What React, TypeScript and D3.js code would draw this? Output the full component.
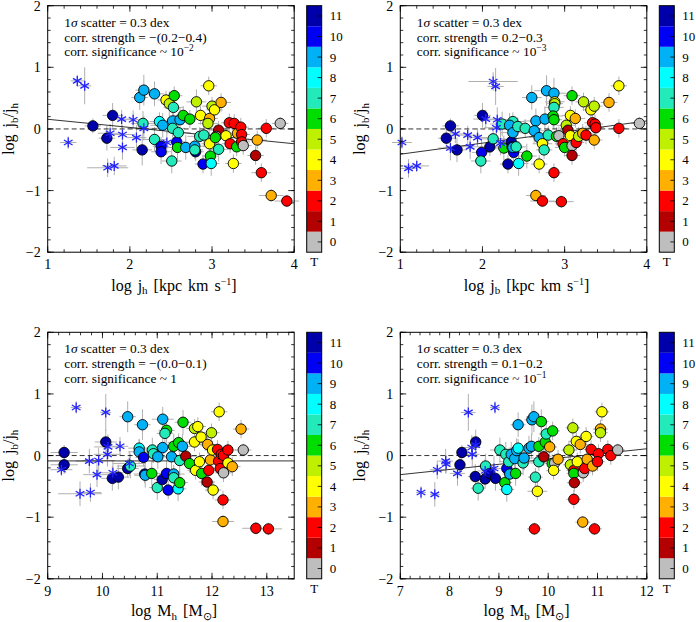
import React from 'react';
import * as d3 from 'd3';

// colour per morphological type T = 0..11
const tColors = ['#bebebe', '#b30000', '#ff0000', '#ffb000', '#ffff00', '#bff000', '#00dd00', '#22eabb', '#00ffff', '#00b2f5', '#0000f5', '#0000aa'];
const tLabels = ['0', '1', '2', '3', '4', '5', '6', '7', '8', '9', '10', '11'];
const yTicks = [-2, -1, 0, 1, 2];

// [x, log jb/jh, T, xerr, yerr]
const ptsJh = [
  [1.55, 0.05, 11, 0.10, 0.12], [1.79, 0.22, 11, 0.12, 0.20], [1.72, -0.15, 11, 0.10, 0.20], [2.15, -0.34, 11, 0.12, 0.25],
  [2.12, 0.51, 9, 0.10, 0.20], [2.17, 0.63, 9, 0.10, 0.25], [2.30, 0.57, 9, 0.12, 0.20], [2.16, 0.09, 7, 0.15, 0.20],
  [2.30, -0.17, 7, 0.15, 0.20], [2.36, 0.12, 8, 0.12, 0.15], [2.40, 0.06, 9, 0.15, 0.20], [2.38, -0.28, 10, 0.10, 0.15],
  [2.38, -0.37, 10, 0.12, 0.20], [2.44, 0.47, 4, 0.10, 0.15], [2.48, 0.41, 5, 0.10, 0.20], [2.53, 0.35, 7, 0.12, 0.25],
  [2.54, 0.54, 6, 0.10, 0.15], [2.52, 0.13, 9, 0.15, 0.20], [2.52, 0.01, 7, 0.15, 0.15], [2.57, -0.21, 10, 0.10, 0.15],
  [2.58, -0.30, 6, 0.12, 0.20], [2.51, -0.52, 7, 0.12, 0.20], [2.61, 0.15, 9, 0.15, 0.20], [2.65, 0.22, 6, 0.12, 0.15],
  [2.73, 0.16, 6, 0.10, 0.15], [2.59, -0.06, 7, 0.15, 0.20], [2.68, -0.30, 9, 0.12, 0.20], [2.79, -0.28, 9, 0.12, 0.15],
  [2.80, -0.37, 11, 0.10, 0.15], [2.79, -0.34, 7, 0.10, 0.15], [2.81, 0.44, 5, 0.12, 0.20], [2.85, -0.12, 7, 0.15, 0.15],
  [2.90, -0.10, 7, 0.12, 0.20], [2.89, -0.57, 10, 0.10, 0.15], [2.86, 0.22, 4, 0.12, 0.15], [2.96, 0.70, 4, 0.10, 0.15],
  [2.97, 0.17, 3, 0.10, 0.20], [2.95, 0.09, 5, 0.12, 0.15], [2.97, -0.24, 4, 0.10, 0.20], [2.98, -0.44, 6, 0.10, 0.20],
  [2.99, -0.56, 8, 0.10, 0.20], [3.00, 0.37, 5, 0.12, 0.15], [3.03, 0.31, 4, 0.10, 0.15], [3.11, 0.43, 3, 0.12, 0.15],
  [3.08, -0.02, 1, 0.10, 0.15], [3.05, -0.12, 0, 0.12, 0.15], [3.04, -0.14, 6, 0.12, 0.20], [3.08, -0.33, 7, 0.12, 0.20],
  [3.17, -0.11, 4, 0.10, 0.15], [3.21, 0.10, 2, 0.10, 0.15], [3.27, 0.09, 2, 0.10, 0.15], [3.22, -0.24, 2, 0.10, 0.15],
  [3.26, -0.56, 4, 0.10, 0.15], [3.30, -0.29, 6, 0.10, 0.15], [3.31, -0.07, 3, 0.12, 0.15], [3.35, 0.03, 2, 0.10, 0.15],
  [3.36, -0.09, 2, 0.10, 0.15], [3.36, -0.21, 2, 0.10, 0.15], [3.38, -0.27, 0, 0.10, 0.15], [3.53, -0.43, 1, 0.10, 0.15],
  [3.55, -0.18, 3, 0.12, 0.15], [3.60, -0.71, 2, 0.12, 0.15], [3.66, 0.01, 2, 0.10, 0.15], [3.83, 0.09, 0, 0.10, 0.10],
  [3.72, -1.08, 3, 0.15, 0.10], [3.91, -1.17, 2, 0.15, 0.10],
];
// [x, log jb/jh, xerr, yerr]
const starsJh = [
  [1.36, 0.78, 0.08, 0.10], [1.45, 0.70, 0.08, 0.30], [1.25, -0.22, 0.10, 0.10], [1.76, -0.07, 0.15, 0.15],
  [1.90, 0.16, 0.12, 0.15], [2.04, 0.15, 0.15, 0.15], [1.91, -0.09, 0.15, 0.15], [2.08, -0.14, 0.12, 0.20],
  [1.91, -0.30, 0.15, 0.20], [1.73, -0.63, 0.25, 0.15], [1.81, -0.60, 0.15, 0.15], [2.17, 0.01, 0.20, 0.20],
  [2.45, -0.22, 0.15, 0.20],
];

const ptsJb = [
  [1.61, 0.05, 11, 0.10, 0.12], [1.56, -0.15, 11, 0.10, 0.15], [1.69, -0.34, 11, 0.12, 0.20], [2.00, 0.22, 11, 0.10, 0.20],
  [1.99, -0.38, 10, 0.12, 0.20], [2.09, -0.29, 11, 0.12, 0.15], [1.98, -0.52, 7, 0.12, 0.20], [2.13, -0.16, 7, 0.15, 0.20],
  [2.24, 0.08, 7, 0.15, 0.20], [2.26, -0.31, 6, 0.15, 0.20], [2.31, -0.57, 11, 0.10, 0.15], [2.35, -0.21, 11, 0.10, 0.15],
  [2.36, -0.29, 10, 0.12, 0.20], [2.38, -0.38, 10, 0.12, 0.20], [2.37, 0.12, 7, 0.15, 0.15], [2.33, 0.06, 9, 0.15, 0.20],
  [2.37, -0.30, 9, 0.12, 0.15], [2.44, -0.56, 8, 0.12, 0.20], [2.37, -0.06, 9, 0.15, 0.20], [2.41, -0.29, 7, 0.12, 0.20],
  [2.43, 0.04, 7, 0.15, 0.15], [2.52, 0.01, 7, 0.12, 0.15], [2.54, -0.44, 6, 0.12, 0.20], [2.60, 0.51, 9, 0.12, 0.20],
  [2.65, 0.13, 9, 0.15, 0.20], [2.63, -0.03, 9, 0.15, 0.20], [2.69, -0.14, 9, 0.12, 0.15], [2.76, 0.16, 9, 0.15, 0.20],
  [2.73, -0.24, 4, 0.12, 0.15], [2.75, -0.34, 7, 0.10, 0.15], [2.69, -0.57, 4, 0.10, 0.15], [2.78, 0.62, 9, 0.15, 0.25],
  [2.87, 0.58, 9, 0.15, 0.25], [2.80, -0.10, 7, 0.12, 0.15], [2.88, 0.44, 4, 0.12, 0.20], [2.88, 0.41, 5, 0.10, 0.15],
  [2.87, 0.35, 7, 0.12, 0.20], [2.86, 0.21, 6, 0.12, 0.20], [2.87, 0.15, 6, 0.10, 0.15], [2.90, -0.12, 6, 0.12, 0.15],
  [2.93, -0.11, 0, 0.10, 0.15], [2.87, -0.71, 2, 0.10, 0.15], [2.65, -1.08, 3, 0.12, 0.10], [2.73, -1.17, 2, 0.15, 0.10],
  [2.96, -1.18, 2, 0.15, 0.10], [2.98, -0.24, 2, 0.10, 0.15], [3.00, -0.30, 6, 0.12, 0.15], [3.02, 0.06, 5, 0.12, 0.15],
  [3.04, -0.02, 1, 0.10, 0.15], [3.07, 0.22, 4, 0.10, 0.15], [3.09, 0.54, 6, 0.10, 0.15], [3.13, 0.17, 3, 0.12, 0.15],
  [3.07, -0.11, 4, 0.10, 0.15], [3.09, -0.27, 0, 0.10, 0.15], [3.09, -0.43, 1, 0.10, 0.15], [3.14, -0.22, 2, 0.10, 0.15],
  [3.17, -0.12, 5, 0.12, 0.15], [3.22, -0.07, 3, 0.12, 0.15], [3.23, 0.44, 5, 0.10, 0.15], [3.26, -0.10, 2, 0.10, 0.15],
  [3.32, 0.31, 4, 0.10, 0.15], [3.36, 0.37, 5, 0.10, 0.15], [3.34, 0.10, 2, 0.10, 0.15], [3.37, 0.08, 2, 0.10, 0.15],
  [3.38, 0.02, 2, 0.10, 0.15], [3.36, -0.18, 3, 0.10, 0.15], [3.54, 0.43, 3, 0.10, 0.15], [3.66, 0.70, 4, 0.10, 0.15],
  [3.66, 0.01, 2, 0.10, 0.15], [3.91, 0.09, 0, 0.10, 0.10],
];
const starsJb = [
  [1.02, -0.22, 0.12, 0.10], [1.10, -0.64, 0.10, 0.15], [1.20, -0.60, 0.15, 0.10], [1.61, -0.31, 0.15, 0.20],
  [1.67, -0.08, 0.15, 0.15], [1.82, -0.10, 0.15, 0.15], [1.85, -0.29, 0.15, 0.20], [1.94, -0.14, 0.12, 0.15],
  [2.04, 0.16, 0.15, 0.15], [2.13, 0.77, 0.30, 0.15], [2.16, 0.69, 0.10, 0.30], [2.18, 0.15, 0.20, 0.20],
  [2.17, 0.02, 0.15, 0.15], [2.22, -0.23, 0.15, 0.20],
];

const ptsMh = [
  [9.30, 0.05, 11, 0.25, 0.12], [9.30, -0.15, 11, 0.25, 0.15], [10.06, 0.22, 11, 0.20, 0.20], [10.18, -0.37, 11, 0.20, 0.20],
  [10.29, -0.35, 11, 0.20, 0.20], [10.46, -0.21, 11, 0.20, 0.15], [10.51, -0.17, 7, 0.25, 0.20], [10.46, 0.63, 9, 0.15, 0.25],
  [10.67, 0.12, 8, 0.20, 0.15], [10.67, 0.06, 9, 0.20, 0.20], [10.75, -0.03, 10, 0.15, 0.15], [10.73, 0.50, 9, 0.15, 0.25],
  [10.77, -0.30, 11, 0.20, 0.15], [10.78, -0.32, 9, 0.20, 0.20], [10.91, 0.09, 7, 0.25, 0.20], [10.93, 0.03, 7, 0.20, 0.15],
  [10.90, -0.29, 6, 0.20, 0.20], [11.00, -0.52, 7, 0.15, 0.20], [11.01, -0.02, 9, 0.20, 0.20], [11.10, 0.59, 9, 0.20, 0.20],
  [11.17, 0.41, 6, 0.15, 0.20], [11.14, 0.36, 7, 0.15, 0.25], [11.10, 0.13, 9, 0.20, 0.20], [11.09, -0.39, 11, 0.15, 0.15],
  [11.17, -0.29, 10, 0.15, 0.20], [11.20, -0.56, 10, 0.15, 0.15], [11.26, -0.02, 9, 0.20, 0.20], [11.30, -0.30, 9, 0.20, 0.15],
  [11.30, -0.36, 7, 0.15, 0.15], [11.38, -0.54, 8, 0.15, 0.20], [11.41, -0.44, 6, 0.15, 0.20], [11.30, 0.15, 6, 0.15, 0.20],
  [11.39, 0.21, 6, 0.20, 0.15], [11.46, 0.15, 9, 0.20, 0.20], [11.41, -0.08, 7, 0.20, 0.20], [11.47, 0.54, 6, 0.15, 0.20],
  [11.52, -0.01, 1, 0.20, 0.15], [11.59, -0.13, 6, 0.20, 0.15], [11.68, 0.44, 5, 0.15, 0.15], [11.74, 0.47, 4, 0.15, 0.15],
  [11.68, 0.22, 4, 0.15, 0.15], [11.70, -0.24, 4, 0.15, 0.15], [11.77, -0.10, 4, 0.15, 0.15], [11.80, 0.30, 4, 0.15, 0.15],
  [11.81, -0.29, 6, 0.15, 0.20], [11.92, 0.18, 3, 0.15, 0.15], [11.91, -0.43, 1, 0.15, 0.15], [11.94, -0.24, 2, 0.15, 0.15],
  [11.97, -0.07, 3, 0.15, 0.15], [11.99, 0.37, 5, 0.15, 0.15], [12.01, 0.09, 4, 0.15, 0.15], [12.02, -0.56, 4, 0.15, 0.15],
  [12.10, 0.10, 2, 0.15, 0.15], [12.12, -0.09, 2, 0.15, 0.15], [12.13, 0.71, 4, 0.15, 0.15], [12.17, 0.02, 2, 0.15, 0.15],
  [12.15, -0.21, 2, 0.15, 0.15], [12.21, 0.00, 2, 0.15, 0.15], [12.21, -0.28, 0, 0.15, 0.15], [12.20, -0.72, 2, 0.15, 0.15],
  [12.20, -1.07, 3, 0.20, 0.10], [12.29, 0.09, 2, 0.15, 0.15], [12.29, -0.12, 4, 0.15, 0.15], [12.37, -0.18, 3, 0.15, 0.15],
  [12.53, 0.43, 3, 0.15, 0.15], [12.57, 0.09, 0, 0.15, 0.10], [12.80, -1.18, 2, 0.25, 0.10], [13.03, -1.19, 2, 0.25, 0.10],
];
const starsMh = [
  [9.25, -0.23, 0.20, 0.10], [9.52, 0.78, 0.10, 0.10], [9.59, -0.62, 0.40, 0.20], [9.78, -0.60, 0.20, 0.15],
  [9.76, -0.09, 0.25, 0.20], [9.93, -0.08, 0.30, 0.20], [9.90, -0.31, 0.25, 0.20], [10.06, 0.70, 0.10, 0.30],
  [10.09, 0.02, 0.25, 0.20], [10.10, 0.14, 0.25, 0.20], [10.32, 0.15, 0.15, 0.15], [10.19, -0.28, 0.20, 0.20],
  [10.49, -0.13, 0.30, 0.20],
];

const ptsMb = [
  [8.25, 0.05, 11, 0.10, 0.12], [8.21, -0.15, 11, 0.10, 0.15], [8.53, 0.22, 11, 0.10, 0.20], [8.52, -0.34, 11, 0.15, 0.20],
  [8.58, -0.53, 7, 0.15, 0.20], [8.73, -0.17, 7, 0.15, 0.20], [8.72, -0.38, 11, 0.15, 0.15], [8.81, -0.29, 11, 0.15, 0.15],
  [8.93, -0.37, 11, 0.15, 0.20], [9.02, 0.09, 7, 0.20, 0.20], [9.12, -0.44, 6, 0.15, 0.20], [9.16, -0.55, 8, 0.15, 0.20],
  [9.16, -0.21, 10, 0.15, 0.15], [9.14, 0.02, 7, 0.20, 0.20], [9.20, -0.10, 7, 0.20, 0.20], [9.22, -0.30, 9, 0.15, 0.15],
  [9.25, 0.02, 9, 0.20, 0.20], [9.32, -0.05, 9, 0.20, 0.20], [9.34, -0.29, 6, 0.15, 0.20], [9.36, 0.08, 9, 0.20, 0.20],
  [9.39, 0.12, 8, 0.20, 0.15], [9.39, 0.50, 9, 0.15, 0.20], [9.49, -0.12, 7, 0.20, 0.20], [9.51, -0.04, 9, 0.20, 0.20],
  [9.61, 0.12, 9, 0.15, 0.20], [9.66, 0.15, 9, 0.15, 0.20], [9.67, 0.58, 9, 0.15, 0.25], [9.71, 0.63, 9, 0.15, 0.25],
  [9.72, -1.19, 2, 0.15, 0.10], [9.74, -0.35, 7, 0.15, 0.15], [9.78, -0.58, 4, 0.20, 0.15], [9.81, -0.10, 7, 0.15, 0.15],
  [9.81, 0.15, 6, 0.15, 0.15], [9.86, 0.55, 6, 0.15, 0.20], [9.91, -0.02, 1, 0.15, 0.15], [9.94, 0.22, 6, 0.15, 0.20],
  [9.96, 0.35, 7, 0.15, 0.20], [10.09, 0.40, 6, 0.15, 0.15], [10.03, 0.14, 3, 0.15, 0.15], [10.08, -0.13, 6, 0.15, 0.15],
  [10.13, -0.12, 0, 0.15, 0.15], [10.11, -0.24, 4, 0.15, 0.15], [10.20, -0.06, 3, 0.15, 0.15], [10.42, 0.09, 5, 0.15, 0.15],
  [10.45, -0.15, 5, 0.15, 0.15], [10.50, 0.45, 5, 0.15, 0.15], [10.52, -0.24, 2, 0.15, 0.15], [10.52, -0.29, 6, 0.15, 0.15],
  [10.53, -0.44, 1, 0.15, 0.15], [10.52, -0.71, 2, 0.15, 0.15], [10.57, 0.23, 4, 0.15, 0.15], [10.59, -0.10, 4, 0.15, 0.15],
  [10.65, 0.18, 3, 0.15, 0.15], [10.71, -0.28, 0, 0.15, 0.15], [10.70, -1.08, 3, 0.15, 0.10], [10.74, -0.21, 2, 0.15, 0.15],
  [10.77, 0.31, 4, 0.15, 0.15], [10.79, -0.06, 3, 0.15, 0.15], [10.87, 0.10, 2, 0.15, 0.15], [10.90, -0.17, 3, 0.15, 0.15],
  [10.94, -1.19, 2, 0.15, 0.10], [11.02, 0.03, 2, 0.15, 0.15], [11.00, -0.10, 2, 0.15, 0.15], [11.06, 0.43, 3, 0.15, 0.15],
  [11.06, 0.37, 5, 0.15, 0.15], [11.09, 0.71, 4, 0.15, 0.15], [11.21, 0.10, 2, 0.15, 0.15], [11.27, 0.00, 2, 0.15, 0.15],
  [11.41, 0.09, 0, 0.15, 0.10],
];
const starsMb = [
  [7.42, -0.60, 0.10, 0.10], [7.70, -0.63, 0.10, 0.20], [7.75, -0.23, 0.15, 0.15], [7.92, -0.09, 0.15, 0.20],
  [7.93, -0.14, 0.10, 0.15], [8.16, -0.29, 0.15, 0.20], [8.38, 0.70, 0.15, 0.30], [8.45, 0.13, 0.15, 0.20],
  [8.46, 0.02, 0.15, 0.20], [8.53, 0.17, 0.10, 0.15], [8.92, 0.78, 0.10, 0.10], [8.72, -0.25, 0.15, 0.20],
  [8.90, -0.21, 0.15, 0.20],
];

// fitted relations: [x0, y0], [x1, y1]
const fitJh = [[1, 0.157], [4, -0.24]];
const fitJb = [[1, -0.41], [4, 0.13]];
const fitMh = [[9, -0.087], [13.5, -0.087]];
const fitMb = [[7, -0.31], [12, 0.11]];

const strengths = ['\u2212(0.2\u22120.4)', '0.2\u22120.3', '\u2212(0.0\u22120.1)', '0.1\u22120.2'];
const signifs = ['\u22122', '\u22123', '', '\u22121'];

const FONT = "'Liberation Serif', 'Times New Roman', serif";
const txt = (size, extra = {}) => ({ fontFamily: FONT, fontSize: size + 'px', fill: '#000', ...extra });

const Star = ({ cx, cy }) => {
  const r = 5;
  const arms = [90, 30, -30].map(a => {
    const t = (a * Math.PI) / 180;
    return [r * Math.cos(t), r * Math.sin(t)];
  });
  return (
    <g stroke="#2323ff" strokeWidth={1.3}>
      {arms.map(([dx, dy], i) => (
        <line key={i} x1={cx - dx} y1={cy - dy} x2={cx + dx} y2={cy + dy} />
      ))}
    </g>
  );
};

const Panel = ({ left, top, xDomain, xMajor, pts, stars, fit, idx, xTitle, yTitleX, xTitleY }) => {
  const w = 246.5, h = 246.5;
  const x = d3.scaleLinear().domain(xDomain).range([left, left + w]);
  const y = d3.scaleLinear().domain([-2, 2]).range([top + h, top]);
  const xMinor = d3.range(xDomain[0], xDomain[1] + 1e-6, 0.2);
  const yMinor = d3.range(-2, 2 + 1e-6, 0.2);
  const cbX = left + w + 12.5, cbW = 15;
  const cb = d3.scaleLinear().domain([-0.5, 11.5]).range([top + h, top]);
  const grey = '#b0b0b0';
  return (
    <g>
      {/* error bars */}
      <g stroke={grey} strokeWidth={1}>
        {[...stars.map(s => [s[0], s[1], s[2], s[3]]), ...pts.map(p => [p[0], p[1], p[3], p[4]])].map((e, i) => (
          <g key={i}>
            <line x1={x(e[0] - e[2])} x2={x(e[0] + e[2])} y1={y(e[1])} y2={y(e[1])} />
            <line x1={x(e[0])} x2={x(e[0])} y1={y(e[1] - e[3])} y2={y(e[1] + e[3])} />
          </g>
        ))}
      </g>
      {/* reference and fit lines */}
      <line x1={left} x2={left + w} y1={y(0)} y2={y(0)} stroke="#000" strokeWidth={0.8} strokeDasharray="5,3" />
      <line x1={x(fit[0][0])} y1={y(fit[0][1])} x2={x(fit[1][0])} y2={y(fit[1][1])} stroke="#000" strokeWidth={0.8} />
      {pts.map((p, i) => (
        <circle key={i} cx={x(p[0])} cy={y(p[1])} r={5.2} fill={tColors[p[2]]} stroke="#000" strokeWidth={0.9} />
      ))}
      {stars.map((s, i) => <Star key={i} cx={x(s[0])} cy={y(s[1])} />)}
      {/* frame and ticks */}
      <rect x={left} y={top} width={w} height={h} fill="none" stroke="#000" strokeWidth={1} />
      <g stroke="#000" strokeWidth={0.8}>
        {xMinor.map((v, i) => (
          <g key={'xm' + i}>
            <line x1={x(v)} x2={x(v)} y1={top + h} y2={top + h - 3} />
            <line x1={x(v)} x2={x(v)} y1={top} y2={top + 3} />
          </g>
        ))}
        {xMajor.map((v, i) => (
          <g key={'xM' + i}>
            <line x1={x(v)} x2={x(v)} y1={top + h} y2={top + h - 6} />
            <line x1={x(v)} x2={x(v)} y1={top} y2={top + 6} />
          </g>
        ))}
        {yMinor.map((v, i) => (
          <g key={'ym' + i}>
            <line x1={left} x2={left + 3} y1={y(v)} y2={y(v)} />
            <line x1={left + w} x2={left + w - 3} y1={y(v)} y2={y(v)} />
          </g>
        ))}
        {yTicks.map((v, i) => (
          <g key={'yM' + i}>
            <line x1={left} x2={left + 6} y1={y(v)} y2={y(v)} />
            <line x1={left + w} x2={left + w - 6} y1={y(v)} y2={y(v)} />
          </g>
        ))}
      </g>
      {xMajor.map((v, i) => (
        <text key={'xl' + i} x={x(v)} y={top + h + 17} textAnchor="middle" style={txt(14)}>{v}</text>
      ))}
      {yTicks.map((v, i) => (
        <text key={'yl' + i} x={left - 7} y={y(v) + 5} textAnchor="end" style={txt(14)}>{v < 0 ? '\u2212' + -v : v}</text>
      ))}
      {/* annotation */}
      <text x={left + 16.5} y={top + 21} style={txt(13.4)}>1<tspan style={{ fontStyle: 'italic' }}>σ</tspan> scatter = 0.3 dex</text>
      <text x={left + 16.5} y={top + 36} style={txt(13.4)}>corr. strength = {strengths[idx]}</text>
      <text x={left + 16.5} y={top + 50.5} style={txt(13.4)}>
        corr. significance ~ {signifs[idx] ? '10' : '1'}
        {signifs[idx] ? <tspan dy={-5} style={{ fontSize: '9.5px' }}>{signifs[idx]}</tspan> : null}
      </text>
      {/* axis titles */}
      <text transform={`translate(${yTitleX},${top + h / 2}) rotate(-90)`} textAnchor="middle" style={txt(16, { wordSpacing: '3px' })}>
        log j<tspan dy={3.5} style={{ fontSize: '11px' }}>b</tspan><tspan dy={-3.5}>/j</tspan><tspan dy={3.5} style={{ fontSize: '11px' }}>h</tspan>
      </text>
      <text x={left + w / 2 + 3} y={xTitleY} textAnchor="middle" style={txt(16, { wordSpacing: '2px' })}>{xTitle}</text>
      {/* colour bar */}
      {tColors.map((c, i) => (
        <rect key={'cb' + i} x={cbX} y={cb(i + 0.5)} width={cbW} height={cb(i - 0.5) - cb(i + 0.5)} fill={c} />
      ))}
      <rect x={cbX} y={top} width={cbW} height={h} fill="none" stroke="#000" strokeWidth={1} />
      <g stroke="#000" strokeWidth={0.8}>
        {tLabels.map((t, i) => (
          <line key={i} x1={cbX + cbW} x2={cbX + cbW - 4} y1={cb(i)} y2={cb(i)} />
        ))}
      </g>
      {tLabels.map((t, i) => (
        <text key={'tl' + i} x={cbX + cbW + 8} y={cb(i) + 4.5} style={txt(13)}>{t}</text>
      ))}
      <text x={cbX + cbW / 2} y={top + h + 14} textAnchor="middle" style={txt(13)}>T</text>
    </g>
  );
};

const sub = s => <tspan dy={3.5} style={{ fontSize: '11px' }}>{s}</tspan>;

export default function App() {
  return (
    <svg width={696} height={622} style={{ position: 'absolute', left: 0, top: 0, background: '#fff' }}>
      <Panel left={47.7} top={5.7} xDomain={[1, 4]} xMajor={[1, 2, 3, 4]} pts={ptsJh} stars={starsJh} fit={fitJh} idx={0}
        yTitleX={14} xTitleY={290.5}
        xTitle={<>log j{sub('h')}<tspan dy={-3.5}> [kpc km s</tspan><tspan dy={-6} style={{ fontSize: '10px' }}>{'\u22121'}</tspan><tspan dy={6}>]</tspan></>} />
      <Panel left={400.3} top={5.7} xDomain={[1, 4]} xMajor={[1, 2, 3, 4]} pts={ptsJb} stars={starsJb} fit={fitJb} idx={1}
        yTitleX={365} xTitleY={290.5}
        xTitle={<>log j{sub('b')}<tspan dy={-3.5}> [kpc km s</tspan><tspan dy={-6} style={{ fontSize: '10px' }}>{'\u22121'}</tspan><tspan dy={6}>]</tspan></>} />
      <Panel left={47.7} top={332.3} xDomain={[9, 13.5]} xMajor={[9, 10, 11, 12, 13]} pts={ptsMh} stars={starsMh} fit={fitMh} idx={2}
        yTitleX={14} xTitleY={616}
        xTitle={<>log M{sub('h')}<tspan dy={-3.5}> [M</tspan>{sub('⊙')}<tspan dy={-3.5}>]</tspan></>} />
      <Panel left={400.3} top={332.3} xDomain={[7, 12]} xMajor={[7, 8, 9, 10, 11, 12]} pts={ptsMb} stars={starsMb} fit={fitMb} idx={3}
        yTitleX={365} xTitleY={616}
        xTitle={<>log M{sub('b')}<tspan dy={-3.5}> [M</tspan>{sub('⊙')}<tspan dy={-3.5}>]</tspan></>} />
    </svg>
  );
}
